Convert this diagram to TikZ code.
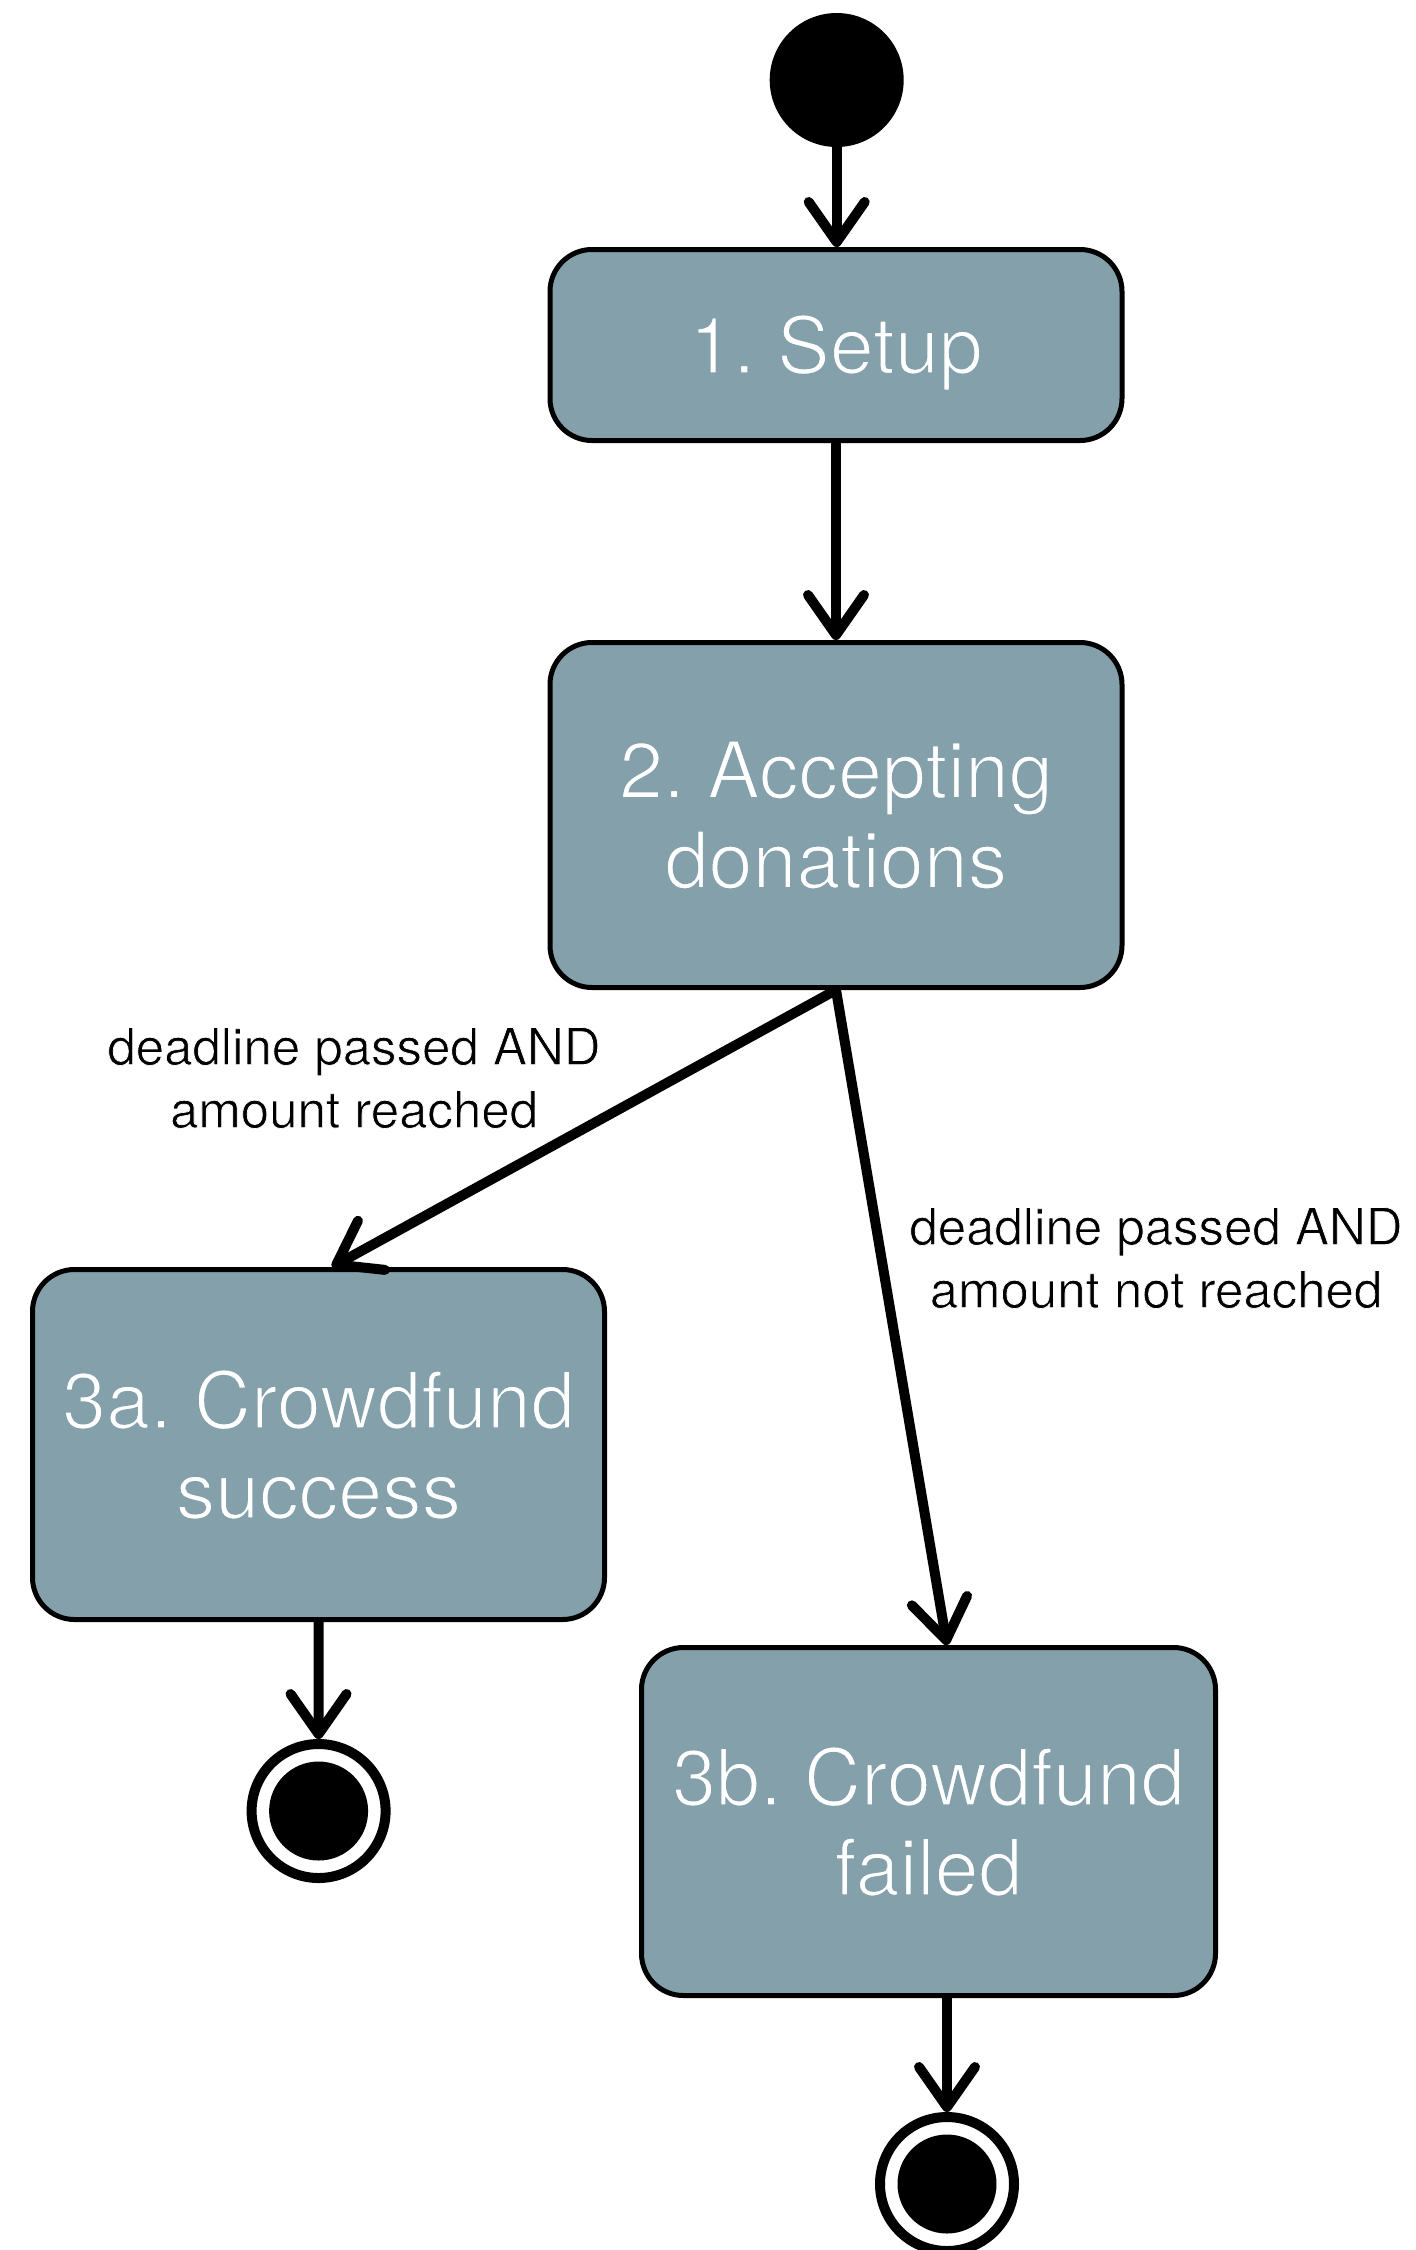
\documentclass[tikz,border=0pt]{standalone}
\usepackage{fontspec}
\setmainfont{TeX Gyre Heros}
\usetikzlibrary{arrows.meta,calc}
\definecolor{statefill}{RGB}{132,161,171}
% thinner glyphs: outline each letter in the colour behind it
\newcommand{\lite}[1]{\special{pdf:literal direct 0.518 0.631 0.671 RG 2 Tr 1 w}#1\special{pdf:literal direct 0 Tr}}
\newcommand{\litew}[1]{\special{pdf:literal direct 1 1 1 RG 2 Tr 0.35 w}#1\special{pdf:literal direct 0 Tr}}
\frenchspacing
\begin{document}
\begin{tikzpicture}[x=0.5pt,y=-0.5pt,
  state/.style={draw=black, line width=2.5pt, fill=statefill, rounded corners=21pt,
    minimum width=286pt, text=white, font=\fontsize{39.5}{45}\selectfont,
    align=center, inner sep=0pt},
  flow/.style={line width=5pt, -{Straight Barb[round,length=20pt,width=28pt]}},
  guard/.style={font=\fontsize{25.5}{31.5}\selectfont, align=center, inner sep=0pt},
  initial/.style={circle, fill=black, minimum size=67pt, inner sep=0pt},
  final/.style={circle, draw=black, line width=5pt, minimum size=67pt, inner sep=0pt,
    path picture={\fill[black] (path picture bounding box.center) circle (24.75pt);}},
]
\useasboundingbox (0,0) rectangle (1415,2250);

% states
\node[initial] (start) at (836.7,80) {};
\node[state, minimum height=95.5pt, text height=37pt] (setup) at (836,345) {\lite{1. Setup}};
\node[state, minimum height=172.5pt] (accept) at (836,815) {\lite{2. Accepting\\donations}};
\node[state, minimum height=175pt] (success) at (318.5,1444.5) {\lite{3a. Crowdfund\\success}};
\node[state, minimum width=287pt, minimum height=174pt] (failed) at (928.5,1821.5) {\lite{3b. Crowdfund\\failed}};
\node[final] (endA) at (318.6,1811) {};
\node[final] (endB) at (947,2184) {};

% transition guards
\node[guard] (gA) at (354,1078) {\litew{deadline passed AND\\amount reached}};
\node[guard] (gB) at (1156,1258) {\litew{deadline passed AND\\amount not reached}};

% transitions
\draw[flow] (start.south) -- (start.south |- setup.north);
\draw[flow] (setup.south) -- (accept.north);
\draw[flow] (accept.south) -- ($(success.north)+(13.5,0)$);
\draw[flow] (accept.south) -- (failed.north -| endB);
\draw[flow] (success.south) -- (endA.north);
\draw[flow] (failed.south -| endB) -- (endB.north);
\end{tikzpicture}
\end{document}
